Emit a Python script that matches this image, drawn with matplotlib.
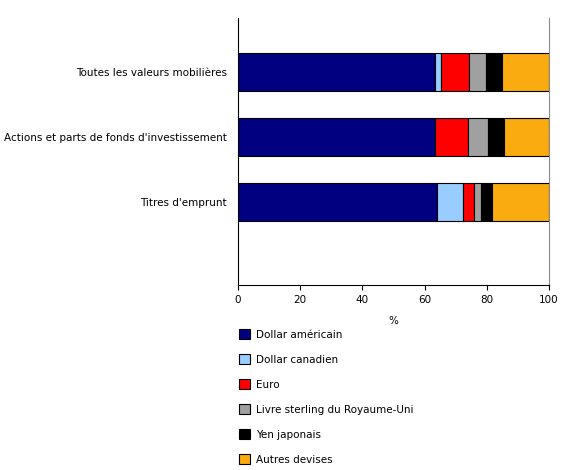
import matplotlib.pyplot as plt
from matplotlib.patches import Patch

categories = ["Toutes les valeurs mobilières", "Actions et parts de fonds d'investissement", "Titres d'emprunt"]
series = ["Dollar américain", "Dollar canadien", "Euro", "Livre sterling du Royaume-Uni", "Yen japonais", "Autres devises"]
colors = ["#000080", "#99ccff", "#ff0000", "#a0a0a0", "#000000", "#f9ab10"]
values = [
    [63.3, 1.9, 9.1, 5.5, 5.1, 15.1],
    [63.2, 0.0, 10.6, 6.5, 5.3, 14.4],
    [64.1, 8.4, 3.3, 2.2, 3.7, 18.3],
]

plt.rcParams["font.family"] = "DejaVu Sans"
plt.rcParams["font.size"] = 7.5

fig = plt.figure(figsize=(5.8, 4.7), dpi=100)
ax = fig.add_axes([238 / 580, 1 - 285 / 470, 311 / 580, 267 / 470])

for i, row in enumerate(values):
    left = 0
    for j, v in enumerate(row):
        if v > 0:
            ax.barh(i, v, left=left, height=0.58, color=colors[j], edgecolor="black", linewidth=0.8)
        left += v

ax.set_ylim(3.28, -0.83)
ax.set_xlim(0, 100)
ax.set_yticks(range(len(categories)))
ax.set_yticklabels(categories)
ax.tick_params(axis="y", length=0, pad=8)
ax.set_xticks([0, 20, 40, 60, 80, 100])
ax.set_xlabel("%", labelpad=8)
ax.spines["top"].set_visible(False)
ax.spines["right"].set_color("#888888")

handles = [Patch(facecolor=c, edgecolor="black", linewidth=0.8) for c in colors]
fig.legend(handles, series, loc="upper left", bbox_to_anchor=(230 / 580, 1 - 320 / 470),
           frameon=False, labelspacing=1.42, handlelength=1.0, handleheight=1.0, handletextpad=0.6)

fig.savefig("out.png")
